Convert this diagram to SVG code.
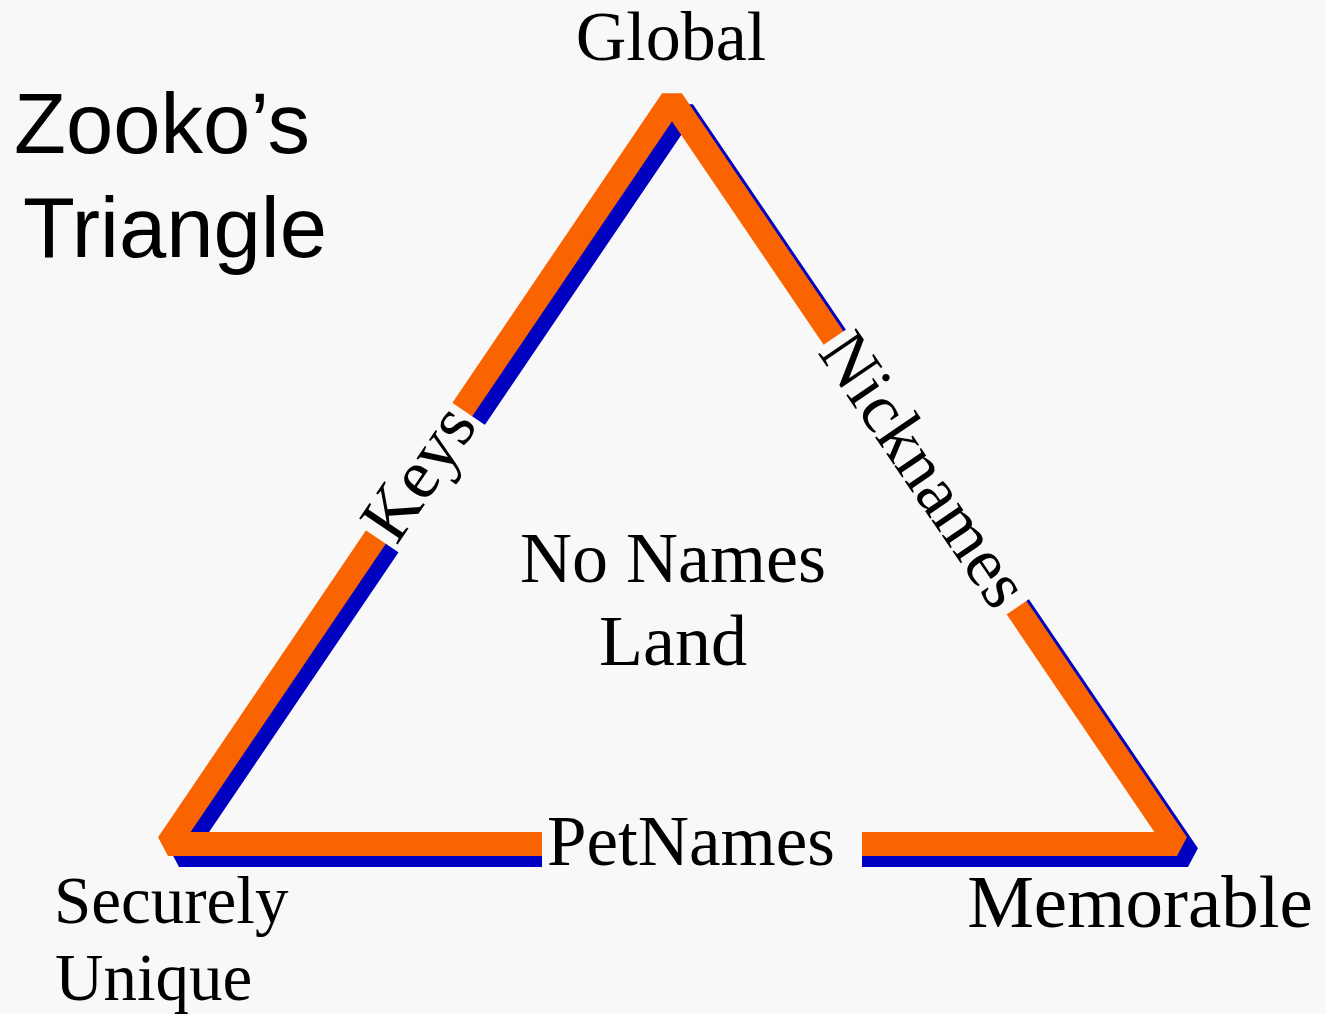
<svg xmlns="http://www.w3.org/2000/svg" width="1326" height="1014" viewBox="0 0 1326 1014">
  <style>
    .serif { font-family: "Liberation Serif", "Times New Roman", serif; fill: #000; }
    .sans { font-family: "Liberation Sans", Arial, sans-serif; fill: #000; font-size: 85px; }
    .gap { fill: #f8f8f8; }
    .edge { fill: none; stroke-width: 24; stroke-linejoin: bevel; }
  </style>
  <rect x="0" y="0" width="1326" height="1014" fill="#f8f8f8"/>

  <g id="title">
    <text class="sans" x="14" y="153">Zooko’s</text>
    <text class="sans" x="23" y="257" font-size="84">Triangle</text>
  </g>

  <g id="connectors">
    <polygon class="edge" stroke="#0000c0" points="179,855 683,111 1188,855"/>
    <polygon class="edge" stroke="#fa6400" points="168,844 672,100 1177,844"/>
  </g>

  <g id="edge-keys" transform="translate(419.3,473.4) rotate(-55.9)">
    <rect class="gap" x="-77" y="-16" width="154" height="46"/>
    <text class="serif" x="0" y="22" font-size="71" text-anchor="middle">Keys</text>
  </g>

  <g id="edge-nicknames" transform="translate(925.5,472.5) rotate(55.8)">
    <rect class="gap" x="-163" y="-20" width="326" height="36"/>
    <text class="serif" x="-3" y="22" font-size="70" text-anchor="middle">Nicknames</text>
  </g>

  <g id="edge-petnames">
    <rect class="gap" x="542" y="826" width="320" height="46"/>
    <text class="serif" x="691" y="865" font-size="71" text-anchor="middle">PetNames</text>
  </g>

  <g id="node-global">
    <text class="serif" x="671" y="60" font-size="70" text-anchor="middle">Global</text>
  </g>

  <g id="node-securely-unique">
    <text class="serif" x="54" y="923" font-size="67">Securely</text>
    <text class="serif" x="55" y="1000" font-size="67">Unique</text>
  </g>

  <g id="node-memorable">
    <text class="serif" x="1140" y="927" font-size="75" text-anchor="middle">Memorable</text>
  </g>

  <g id="node-no-names-land">
    <text class="serif" x="673" y="582" font-size="72" text-anchor="middle">No Names</text>
    <text class="serif" x="673" y="665" font-size="72" text-anchor="middle">Land</text>
  </g>
</svg>
